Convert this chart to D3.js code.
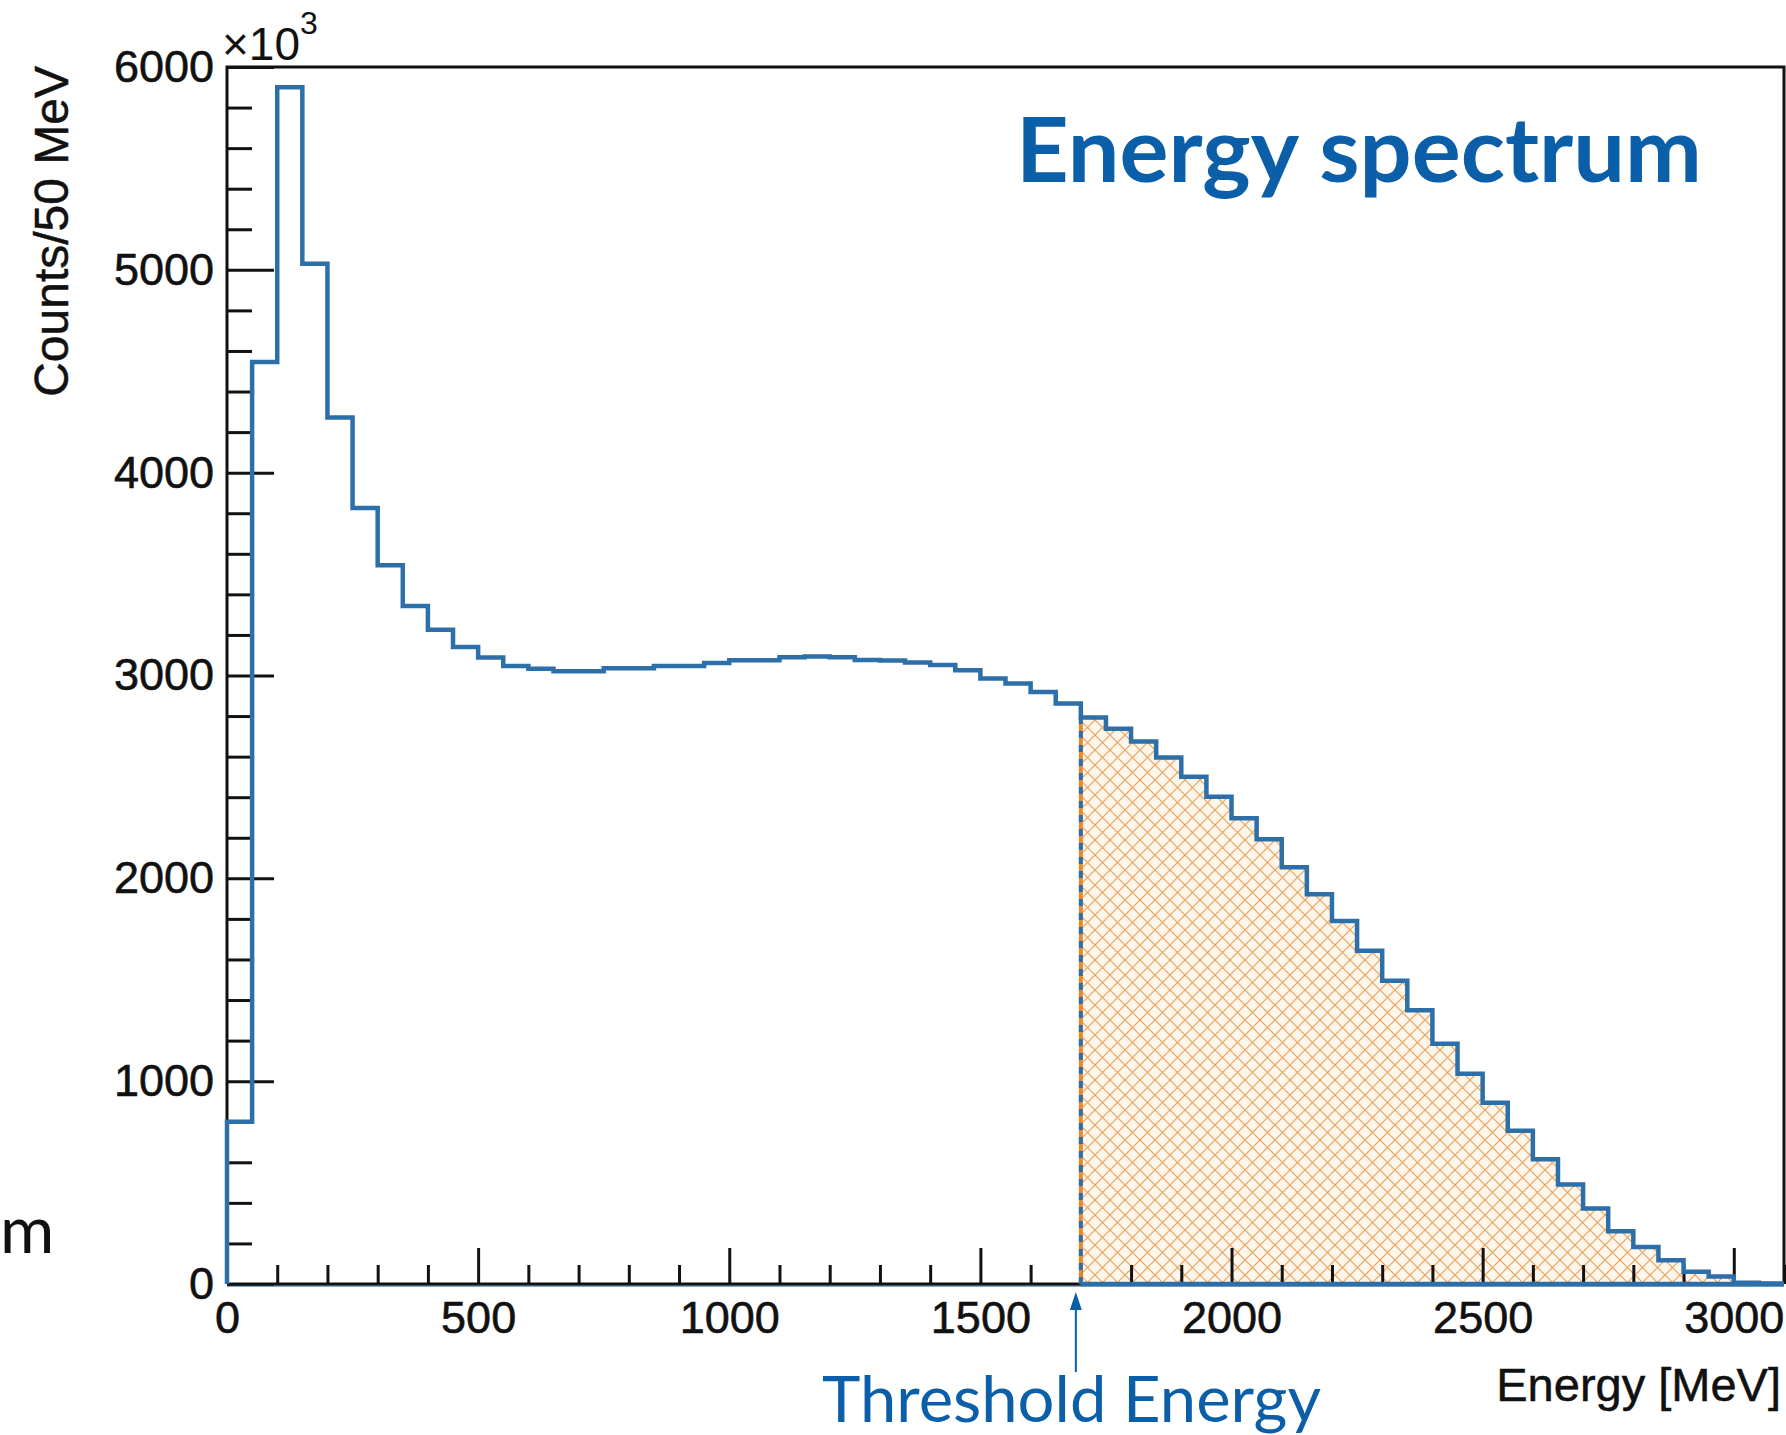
<!DOCTYPE html>
<html>
<head>
<meta charset="utf-8">
<script src="https://cdn.jsdelivr.net/npm/d3@7"></script>
<style>
  html, body { margin: 0; padding: 0; background: #fff; }
  svg { display: block; }
  .axis .tick text { font-family: "Liberation Sans", Arial, sans-serif; font-size: 45px; fill: #111; stroke: #111; stroke-width: 0.6; }
  .axis .tick line { stroke: #111; stroke-width: 3; }
  .axis .domain { display: none; }
</style>
</head>
<body>
<svg id="chart" width="1786" height="1435"></svg>
<script>
// Constants
const WIDTH = 1786;
const HEIGHT = 1435;
const PLOT = { left: 227, right: 1784, top: 67, bottom: 1284 };
const HIST_BLUE = '#2d6fa8';
const TEXT_BLUE = '#0b5ea8';
const HATCH_ORANGE = '#e9a35c';
const THRESHOLD = 1700;
const X_MAX = 3100;
const Y_MAX = 6000;

// Bin low edges [MeV], 50 MeV wide
const BIN_LOW = [
  0, 50, 100, 150, 200, 250, 300, 350, 400, 450,
  500, 550, 600, 650, 700, 750, 800, 850, 900, 950,
  1000, 1050, 1100, 1150, 1200, 1250, 1300, 1350, 1400, 1450,
  1500, 1550, 1600, 1650, 1700, 1750, 1800, 1850, 1900, 1950,
  2000, 2050, 2100, 2150, 2200, 2250, 2300, 2350, 2400, 2450,
  2500, 2550, 2600, 2650, 2700, 2750, 2800, 2850, 2900, 2950,
  3000, 3050,
];

// Counts per bin (x10^3)
const COUNTS = [
  800, 4545, 5900, 5030, 4272, 3826, 3544, 3343, 3225, 3141,
  3089, 3047, 3033, 3021, 3021, 3036, 3036, 3047, 3047, 3062,
  3075, 3075, 3090, 3094, 3090, 3076, 3074, 3064, 3052, 3026,
  2985, 2960, 2919, 2862, 2793, 2737, 2675, 2596, 2501, 2402,
  2296, 2193, 2055, 1922, 1790, 1643, 1495, 1350, 1184, 1037,
  893, 755, 615, 491, 372, 260, 182, 117, 61, 37,
  6, 2,
];

// Axis ticks
const X_TICKS = [0, 500, 1000, 1500, 2000, 2500, 3000];
const Y_TICKS = [0, 1000, 2000, 3000, 4000, 5000, 6000];

const svg = d3.select('#chart');

// Scales
const xScale = d3.scaleLinear([0, X_MAX], [PLOT.left, PLOT.right]);
const yScale = d3.scaleLinear([0, Y_MAX], [PLOT.bottom, PLOT.top]);

// Hatch pattern for the region above threshold
const defs = svg.append('defs');
const pattern = defs
  .append('pattern')
  .attr('id', 'hatch')
  .attr('patternUnits', 'userSpaceOnUse')
  .attr('width', 15)
  .attr('height', 15);
pattern.append('rect').attr('width', 15).attr('height', 15).attr('fill', '#fff6eb');
pattern
  .append('path')
  .attr('d', 'M0,0 L15,15 M15,0 L0,15 M-1,14 L1,16 M14,-1 L16,1 M-1,1 L1,-1 M14,16 L16,14')
  .attr('stroke', HATCH_ORANGE)
  .attr('stroke-width', 1.2)
  .attr('fill', 'none');

// Histogram points
const bins = BIN_LOW.map((lo, i) => ({ x: lo, y: COUNTS[i] }));
const lastBin = bins[bins.length - 1];
const stepPoints = [{ x: 0, y: 0 }, ...bins, { x: X_MAX, y: lastBin.y }];
const shaded = [...bins.filter((b) => b.x >= THRESHOLD), { x: X_MAX, y: lastBin.y }];

// Hatched area
const area = d3
  .area()
  .curve(d3.curveStepAfter)
  .x((d) => xScale(d.x))
  .y0(yScale(0))
  .y1((d) => yScale(d.y));

svg.append('path').datum(shaded).attr('d', area).attr('fill', 'url(#hatch)');

// Axes (ticks point inward, ROOT style)
const xAxis = d3.axisBottom(xScale).tickValues(X_TICKS).tickSize(-36).tickPadding(17).tickFormat(d3.format('d'));
const xMinor = d3
  .axisBottom(xScale)
  .tickValues(d3.range(100, X_MAX + 1, 100).filter((v) => v % 500 !== 0))
  .tickSize(-19)
  .tickFormat('');
const yAxis = d3.axisLeft(yScale).tickValues(Y_TICKS).tickSize(-47).tickPadding(13).tickFormat(d3.format('d'));
const yMinor = d3
  .axisLeft(yScale)
  .tickValues(d3.range(200, Y_MAX, 200).filter((v) => v % 1000 !== 0))
  .tickSize(-25)
  .tickFormat('');

svg.append('g').attr('class', 'axis').attr('transform', `translate(0, ${PLOT.bottom})`).call(xMinor);
svg.append('g').attr('class', 'axis').attr('transform', `translate(0, ${PLOT.bottom})`).call(xAxis);
svg.append('g').attr('class', 'axis').attr('transform', `translate(${PLOT.left}, 0)`).call(yMinor);
svg.append('g').attr('class', 'axis').attr('transform', `translate(${PLOT.left}, 0)`).call(yAxis);

// Frame
svg
  .append('path')
  .attr('d', `M${PLOT.left},${PLOT.bottom} V${PLOT.top} H${PLOT.right} V${PLOT.bottom}`)
  .attr('fill', 'none')
  .attr('stroke', '#111')
  .attr('stroke-width', 3);

// Baseline: thin blue under black axis, then blue over it past threshold
svg
  .append('line')
  .attr('x1', PLOT.left).attr('x2', PLOT.right)
  .attr('y1', PLOT.bottom + 2).attr('y2', PLOT.bottom + 2)
  .attr('stroke', HIST_BLUE).attr('stroke-width', 2).attr('opacity', 0.6);
svg
  .append('line')
  .attr('x1', PLOT.left).attr('x2', xScale(THRESHOLD))
  .attr('y1', PLOT.bottom).attr('y2', PLOT.bottom)
  .attr('stroke', '#111').attr('stroke-width', 3);
svg
  .append('line')
  .attr('x1', xScale(THRESHOLD)).attr('x2', PLOT.right)
  .attr('y1', PLOT.bottom).attr('y2', PLOT.bottom)
  .attr('stroke', HIST_BLUE).attr('stroke-width', 4.5);

// Threshold edge of the shaded histogram
const edgeTop = yScale(shaded[0].y);
svg
  .append('line')
  .attr('x1', xScale(THRESHOLD)).attr('x2', xScale(THRESHOLD))
  .attr('y1', PLOT.bottom).attr('y2', edgeTop)
  .attr('stroke', '#e88a2c').attr('stroke-width', 4);
svg
  .append('line')
  .attr('x1', xScale(THRESHOLD)).attr('x2', xScale(THRESHOLD))
  .attr('y1', PLOT.bottom).attr('y2', edgeTop)
  .attr('stroke', HIST_BLUE).attr('stroke-width', 4).attr('stroke-dasharray', '7 7');

// Histogram outline
const line = d3
  .line()
  .curve(d3.curveStepAfter)
  .x((d) => xScale(d.x))
  .y((d) => yScale(d.y));

svg
  .append('path')
  .datum(stepPoints)
  .attr('d', line)
  .attr('fill', 'none')
  .attr('stroke', HIST_BLUE)
  .attr('stroke-width', 4.5)
  .attr('stroke-linejoin', 'miter');

// Exponent label
const expo = svg
  .append('text')
  .attr('x', 222)
  .attr('y', 60)
  .attr('font-family', '"Liberation Sans", Arial, sans-serif')
  .attr('font-size', 46)
  .attr('fill', '#111');
expo.append('tspan').text('\u00d710');
expo.append('tspan').attr('font-size', 32).attr('dy', -26).text('3');

// Axis titles
svg
  .append('text')
  .attr('transform', 'translate(68, 66) rotate(-90)')
  .attr('text-anchor', 'end')
  .attr('font-family', '"Liberation Sans", Arial, sans-serif')
  .attr('font-size', 48)
  .attr('fill', '#111')
  .attr('stroke', '#111')
  .attr('stroke-width', 0.5)
  .text('Counts/50 MeV');

svg
  .append('text')
  .attr('x', 1781)
  .attr('y', 1401)
  .attr('text-anchor', 'end')
  .attr('font-family', '"Liberation Sans", Arial, sans-serif')
  .attr('font-size', 47)
  .attr('fill', '#111')
  .attr('stroke', '#111')
  .attr('stroke-width', 0.5)
  .text('Energy [MeV]');

// Title
svg
  .append('text')
  .attr('x', 1016)
  .attr('y', 182)
  .attr('font-family', 'Lato, "Open Sans", sans-serif')
  .attr('font-weight', 700)
  .attr('font-size', 90)
  .attr('textLength', 686)
  .attr('lengthAdjust', 'spacingAndGlyphs')
  .attr('fill', TEXT_BLUE)
  .text('Energy spectrum');

// Threshold annotation
const arrowX = xScale(THRESHOLD) - 5;
svg
  .append('line')
  .attr('x1', arrowX).attr('x2', arrowX)
  .attr('y1', 1372).attr('y2', 1306)
  .attr('stroke', TEXT_BLUE).attr('stroke-width', 2);
svg
  .append('path')
  .attr('d', `M${arrowX},1292 L${arrowX - 6},1310 L${arrowX + 6},1310 Z`)
  .attr('fill', TEXT_BLUE);

svg
  .append('text')
  .attr('x', 822)
  .attr('y', 1422)
  .attr('font-family', 'Lato, "Open Sans", sans-serif')
  .attr('font-size', 64)
  .attr('textLength', 499)
  .attr('lengthAdjust', 'spacingAndGlyphs')
  .attr('fill', TEXT_BLUE)
  .text('Threshold Energy');

// Slide text fragment on the left edge
svg
  .append('text')
  .attr('x', 0)
  .attr('y', 1253)
  .attr('font-family', 'Lato, "Open Sans", sans-serif')
  .attr('font-size', 66)
  .attr('fill', '#111')
  .text('m');
</script>
</body>
</html>
